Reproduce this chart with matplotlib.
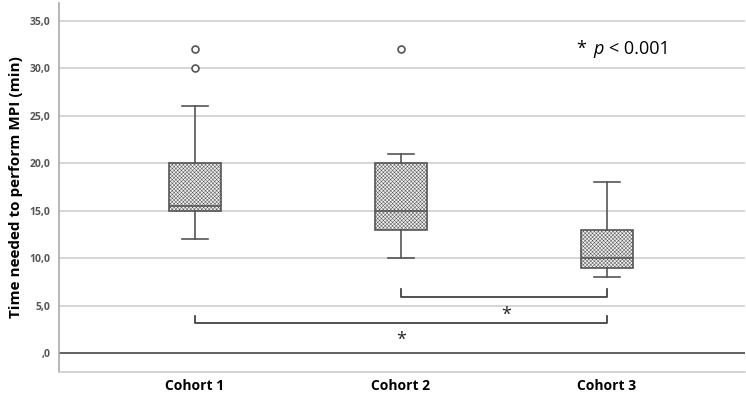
import matplotlib.pyplot as plt

plt.rcParams['font.family'] = ['Open Sans', 'DejaVu Sans']
plt.rcParams['hatch.linewidth'] = 0.35
plt.rcParams['hatch.color'] = '#aaaaaa'

cohorts = ['Cohort 1', 'Cohort 2', 'Cohort 3']
whislo = [12, 10, 8]
q1 = [15, 13, 9]
med = [15.5, 15, 10]
q3 = [20, 20, 13]
whishi = [26, 21, 18]
fliers = [[30, 32], [32], []]
yticks = [0, 5, 10, 15, 20, 25, 30, 35]
ytick_labels = [',0', '5,0', '10,0', '15,0', '20,0', '25,0', '30,0', '35,0']

stats = []
for i in range(len(cohorts)):
    stats.append(dict(label=cohorts[i], whislo=whislo[i], q1=q1[i], med=med[i],
                      q3=q3[i], whishi=whishi[i], fliers=fliers[i]))

fig = plt.figure(figsize=(7.46, 3.94), dpi=100)
ax = fig.add_axes([59 / 746, 22 / 394, 686 / 746, 369 / 394])

line_c = '#555555'
bp = ax.bxp(stats, positions=[1, 2, 3], widths=0.25, patch_artist=True,
            boxprops=dict(facecolor='#f0f0f0', edgecolor=line_c, linewidth=1.2, hatch='xxxxxxxxx'),
            medianprops=dict(color=line_c, linewidth=1.2),
            whiskerprops=dict(color=line_c, linewidth=1.2),
            capprops=dict(color=line_c, linewidth=1.2),
            capwidths=0.125,
            flierprops=dict(marker='o', markerfacecolor='white', markeredgecolor=line_c,
                            markersize=5, markeredgewidth=1.2),
            zorder=3)

ax.set_xlim(0.34, 3.67)
ax.set_ylim(-2.0, 36.9)
ax.set_yticks(yticks)
ax.set_yticklabels(ytick_labels)
ax.set_xticks([1, 2, 3])
ax.set_xticklabels(cohorts, fontweight='bold', fontsize=10)
ax.tick_params(axis='x', length=0, pad=5)
ax.tick_params(axis='y', length=0, labelsize=7.5, labelcolor='#555555', pad=6)
for lab in ax.get_yticklabels():
    lab.set_fontweight('bold')

for y in yticks[1:]:
    ax.axhline(y, color='#d0d0d0', linewidth=1.2, zorder=1)
ax.axhline(0, color='#555555', linewidth=1.3, zorder=2)

for s in ['top', 'right']:
    ax.spines[s].set_visible(False)
ax.spines['left'].set_color('#aaaaaa')
ax.spines['bottom'].set_color('#cccccc')
ax.spines['left'].set_linewidth(1.2)
ax.spines['bottom'].set_linewidth(1.2)

ax.set_ylabel('Time needed to perform MPI (min)', fontweight='bold', fontsize=11, labelpad=5)

# significance brackets
def bracket(x1, x2, y, h, star_x, star_y):
    ax.plot([x1, x1, x2, x2], [y + h, y, y, y + h], color='#333333', linewidth=1.2, zorder=3)
    ax.text(star_x, star_y, '*', ha='center', va='center', fontsize=13, color='#222222')

bracket(2, 3, 5.9, 0.8, 2.51, 4.0)
bracket(1, 3, 3.2, 0.7, 2, 1.4)

ax.text(2.85, 32.1, '*', ha='left', va='center', fontsize=13)
ax.text(2.935, 32.1, 'p', ha='left', va='center', fontsize=13, style='italic')
ax.text(3.012, 32.1, '< 0.001', ha='left', va='center', fontsize=13)

fig.savefig('out.png', dpi=100)
